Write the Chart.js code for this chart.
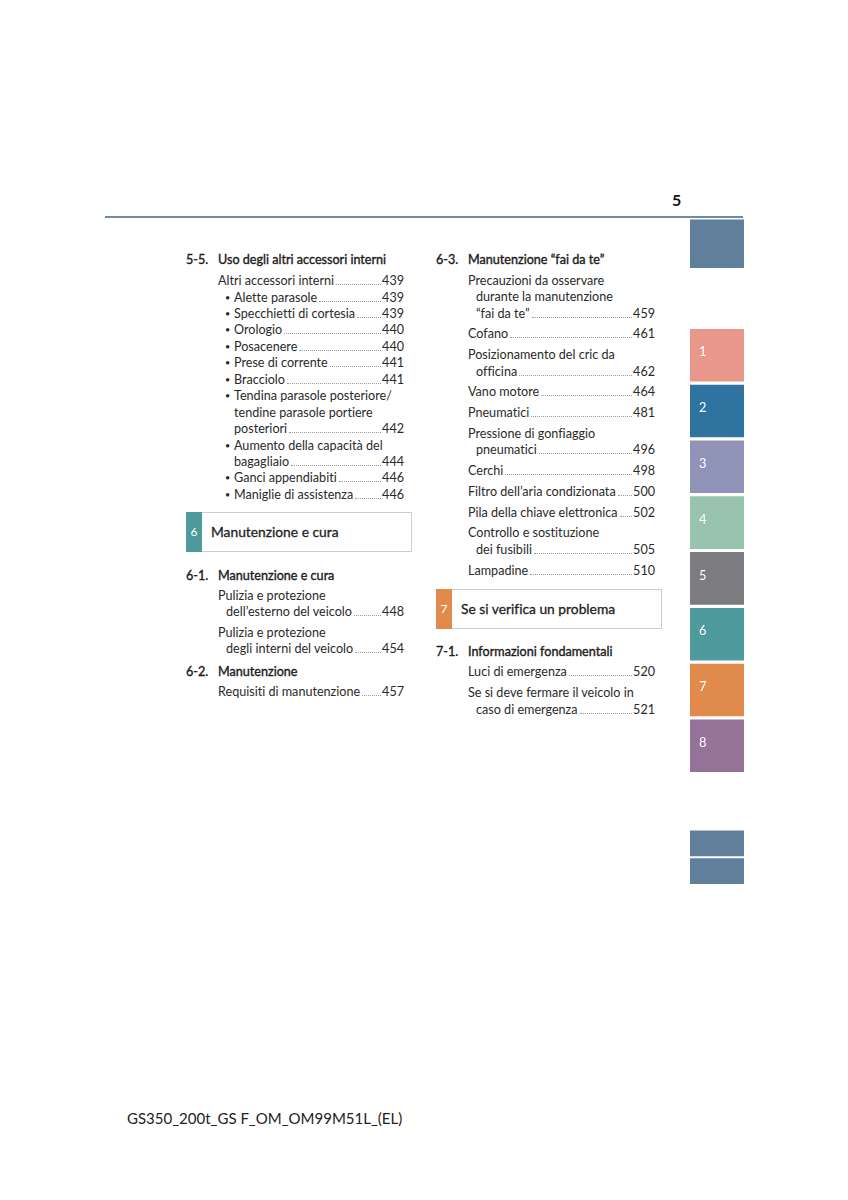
<!DOCTYPE html>
<html>
<head>
<meta charset="utf-8">
<script src="https://cdn.jsdelivr.net/npm/chart.js@4.4.1/dist/chart.umd.min.js"></script>
<style>
  html, body { margin: 0; padding: 0; background: #fff; }
  #page { position: relative; width: 848px; height: 1200px; overflow: hidden;
          font-family: Lato, "Noto Sans", sans-serif; color: #2a2a2a; font-variant-ligatures: none; }
  #rule { position: absolute; left: 105px; top: 216px; width: 638px; height: 2px; background: #6f8aa3; }
  #pageNo { position: absolute; left: 672px; top: 190px; font-size: 16px; font-weight: 700; color: #111; }
  #footer { position: absolute; left: 127px; top: 1109px; font-size: 15px; color: #222; }
  .col { position: absolute; font-size: 12.6px; line-height: 16.45px; }
  .head { display: flex; color: #1a1a1a; -webkit-text-stroke: 0.35px #1a1a1a; }
  .head .num { width: 32px; flex: none; }
  .entry { padding-left: 32px; }
  .ln { display: flex; align-items: baseline; white-space: nowrap; }
  .ln.cont { padding-left: 8px; }
  .ln .dots { flex: 1; border-bottom: 1px dotted #999; margin: 0 1px 0 2px; height: 0; }
  .ln .pg { flex: none; }
  .ln.bul { position: relative; padding-left: 16px; }
  .ln.bul::before { content: "\2022"; position: absolute; left: 7px; font-size: 9px; }
  .ln.bul.cont::before { content: ""; }
  .box { position: relative; height: 38px; border: 1px solid #c9cfd0; border-left: none; display: flex; align-items: center; }
  .box .strip { width: 16px; height: 40px; margin-top: -1px; margin-bottom: -1px; display: flex; align-items: center; justify-content: center;
                color: #fff; font-size: 12px; flex: none; }
  .box .title { padding-left: 9px; font-size: 13.8px; color: #1e1e1e; -webkit-text-stroke: 0.3px #1e1e1e; }
  #tabs { position: absolute; left: 690px; top: 188px; width: 54px; height: 725px; }
</style>
</head>
<body>
<div id="page">
  <div id="pageNo">5</div>
  <div id="rule"></div>
  <div class="col" id="colLeft" style="left:186px; top:252px; width:218px;"></div>
  <div class="col" id="colRight" style="left:436px; top:252px; width:219px;"></div>
  <div id="tabs"><canvas id="tabChart"></canvas></div>
  <div id="footer">GS350_200t_GS F_OM_OM99M51L_(EL)</div>
</div>
<script>
// side tabs: label, position (in tab pitch units), colour
const tabLabels = ['', '1', '2', '3', '4', '5', '6', '7', '8', '', ''];
const tabPositions = [-1, 1, 2, 3, 4, 5, 6, 7, 8, 9.75, 10.25];
const tabColors = ['#5f7f9a', '#e9978a', '#2f73a0', '#8f93b8', '#98c4ae', '#7b7b80',
                   '#4f9a9c', '#e08b4c', '#957399', '#5f7f9a', '#5f7f9a'];
const tabHeights = [0.86, 0.93, 0.93, 0.93, 0.93, 0.93, 0.93, 0.93, 0.93, 0.45, 0.45];

// table of contents
const colLeftItems = [
  { type: 'head', num: '5-5.', title: 'Uso degli altri accessori interni', gap: 0, first: 4.6 },
  { type: 'entry', lines: ['Altri accessori interni'], page: '439' },
  { type: 'bullet', lines: ['Alette parasole'], page: '439' },
  { type: 'bullet', lines: ['Specchietti di cortesia'], page: '439' },
  { type: 'bullet', lines: ['Orologio'], page: '440' },
  { type: 'bullet', lines: ['Posacenere'], page: '440' },
  { type: 'bullet', lines: ['Prese di corrente'], page: '441' },
  { type: 'bullet', lines: ['Bracciolo'], page: '441' },
  { type: 'bullet', lines: ['Tendina parasole posteriore/', 'tendine parasole portiere', 'posteriori'], page: '442' },
  { type: 'bullet', lines: ['Aumento della capacità del', 'bagagliaio'], page: '444' },
  { type: 'bullet', lines: ['Ganci appendiabiti'], page: '446' },
  { type: 'bullet', lines: ['Maniglie di assistenza'], page: '446' },
  { type: 'box', num: '6', title: 'Manutenzione e cura', color: '#4f9a9c', before: 8.8, after: 15.8 },
  { type: 'head', num: '6-1.', title: 'Manutenzione e cura', gap: 3.6 },
  { type: 'entry', lines: ['Pulizia e protezione', 'dell\u2019esterno del veicolo'], page: '448' },
  { type: 'entry', lines: ['Pulizia e protezione', 'degli interni del veicolo'], page: '454' },
  { type: 'head', num: '6-2.', title: 'Manutenzione', gap: 3.6, before: 6.6 },
  { type: 'entry', lines: ['Requisiti di manutenzione'], page: '457' }
];

const colRightItems = [
  { type: 'head', num: '6-3.', title: 'Manutenzione \u201cfai da te\u201d', gap: 4.3 },
  { type: 'entry', lines: ['Precauzioni da osservare', 'durante la manutenzione', '\u201cfai da te\u201d'], page: '459' },
  { type: 'entry', lines: ['Cofano'], page: '461' },
  { type: 'entry', lines: ['Posizionamento del cric da', 'officina'], page: '462' },
  { type: 'entry', lines: ['Vano motore'], page: '464' },
  { type: 'entry', lines: ['Pneumatici'], page: '481' },
  { type: 'entry', lines: ['Pressione di gonfiaggio', 'pneumatici'], page: '496' },
  { type: 'entry', lines: ['Cerchi'], page: '498' },
  { type: 'entry', lines: ['Filtro dell\u2019aria condizionata'], page: '500' },
  { type: 'entry', lines: ['Pila della chiave elettronica'], page: '502' },
  { type: 'entry', lines: ['Controllo e sostituzione', 'dei fusibili'], page: '505' },
  { type: 'entry', lines: ['Lampadine'], page: '510' },
  { type: 'box', num: '7', title: 'Se si verifica un problema', color: '#e08b4c', before: 9.8, after: 14.8 },
  { type: 'head', num: '7-1.', title: 'Informazioni fondamentali', gap: 4.4 },
  { type: 'entry', lines: ['Luci di emergenza'], page: '520' },
  { type: 'entry', lines: ['Se si deve fermare il veicolo in', 'caso di emergenza'], page: '521' }
];

function lineEl(text, page, cont) {
  const ln = document.createElement('div');
  ln.className = 'ln' + (cont ? ' cont' : '');
  const t = document.createElement('span');
  t.textContent = text;
  ln.appendChild(t);
  if (page) {
    const d = document.createElement('span');
    d.className = 'dots';
    const p = document.createElement('span');
    p.className = 'pg';
    p.textContent = page;
    ln.appendChild(d);
    ln.appendChild(p);
  }
  return ln;
}

function buildColumn(el, items) {
  let gap = 0;
  let firstGap = null;
  for (const it of items) {
    let node;
    if (it.type === 'head') {
      node = document.createElement('div');
      node.className = 'head';
      node.innerHTML = '<span class="num"></span><span class="t"></span>';
      node.querySelector('.num').textContent = it.num;
      node.querySelector('.t').textContent = it.title;
      if (it.before) node.style.marginTop = it.before + 'px';
      gap = it.gap;
      firstGap = it.first != null ? it.first : null;
      el.appendChild(node);
      continue;
    }
    if (it.type === 'box') {
      node = document.createElement('div');
      node.className = 'box';
      node.style.marginTop = it.before + 'px';
      node.style.marginBottom = it.after + 'px';
      node.style.width = '225px';
      node.innerHTML = '<div class="strip"></div><div class="title"></div>';
      node.querySelector('.strip').style.background = it.color;
      node.querySelector('.strip').textContent = it.num;
      node.querySelector('.title').textContent = it.title;
      el.appendChild(node);
      continue;
    }
    node = document.createElement('div');
    node.className = 'entry';
    node.style.marginTop = (firstGap != null ? firstGap : gap) + 'px';
    firstGap = null;
    const last = it.lines.length - 1;
    it.lines.forEach((txt, i) => {
      const ln = lineEl(txt, i === last ? it.page : null, i > 0);
      if (it.type === 'bullet') ln.className = 'ln bul' + (i > 0 ? ' cont' : '');
      node.appendChild(ln);
    });
    el.appendChild(node);
  }
}

buildColumn(document.getElementById('colLeft'), colLeftItems);
buildColumn(document.getElementById('colRight'), colRightItems);

const tabText = {
  id: 'tabText',
  afterDatasetsDraw(chart) {
    const ctx = chart.ctx;
    const meta = chart.getDatasetMeta(0);
    ctx.save();
    ctx.fillStyle = '#ffffff';
    ctx.font = '13px Lato, "Noto Sans", sans-serif';
    ctx.textBaseline = 'middle';
    meta.data.forEach((bar, i) => {
      if (!tabLabels[i]) return;
      const mid = (bar.y + bar.base) / 2;
      ctx.fillText(tabLabels[i], bar.x - bar.width / 2 + 9, mid - 3);
    });
    ctx.restore();
  }
};

new Chart(document.getElementById('tabChart'), {
  type: 'bar',
  data: {
    labels: ['tabs'],
    datasets: [{
      data: tabPositions.map((p, i) => ({ x: 'tabs', y: [p - tabHeights[i] / 2, p + tabHeights[i] / 2] })),
      backgroundColor: tabColors,
      borderWidth: 0,
      barPercentage: 1,
      categoryPercentage: 1
    }]
  },
  options: {
    responsive: true,
    maintainAspectRatio: false,
    animation: false,
    layout: { padding: 0 },
    plugins: { legend: { display: false }, tooltip: { enabled: false } },
    scales: {
      x: { display: false },
      y: { display: false, reverse: true, min: -2, max: 11 }
    }
  },
  plugins: [tabText]
});
</script>
</body>
</html>
